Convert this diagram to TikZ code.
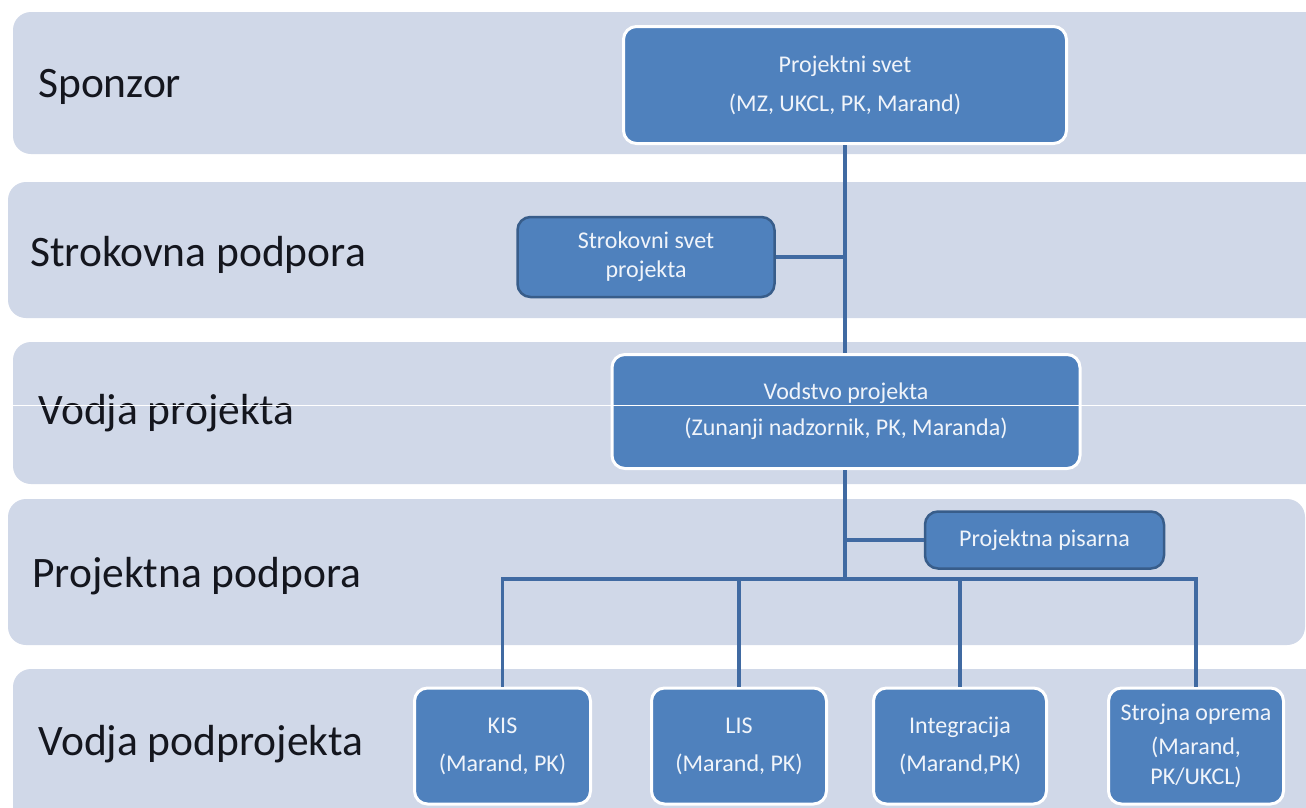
\documentclass[tikz,border=0pt]{standalone}
\usepackage{fontspec}
\setmainfont{Carlito}
\definecolor{bandfill}{RGB}{208,216,232}
\definecolor{boxfill}{RGB}{79,129,189}
\definecolor{conn}{RGB}{64,106,162}
\definecolor{darkedge}{RGB}{56,93,138}
\definecolor{boxtext}{RGB}{240,244,250}
\definecolor{bandtext}{RGB}{20,22,30}
\tikzset{
  band/.style={fill=bandfill, rounded corners=18pt, draw=none},
  bandlabel/.style={anchor=base west, text=bandtext, font=\fontsize{43.5}{50}\selectfont, inner sep=0pt},
  wbox/.style={draw=white, line width=3pt, fill=boxfill, rounded corners=13pt, text=boxtext, align=center, inner sep=0pt},
  dbox/.style={draw=darkedge, line width=2.5pt, fill=boxfill, rounded corners=13pt, text=boxtext, align=center, inner sep=0pt},
  conline/.style={draw=conn, line width=3.5pt}
}
\begin{document}
\begin{tikzpicture}[x=1pt,y=-1pt]
\useasboundingbox (0,0) rectangle (1306,807);
\fill[white] (0,0) rectangle (1306,807);
% bands
\path[band] (13,12) rectangle (1330,154);
\path[band] (8,182) rectangle (1330,318);
\path[band] (13,342) rectangle (1330,484);
\path[band] (8,499) rectangle (1305,645);
\path[band] (13,669) rectangle (1330,840);
% band labels
\node[bandlabel] (l1) at (38,97) {Sponzor};
\node[bandlabel] (l2) at (30,266) {Strokovna podpora};
\node[bandlabel] (l3) at (38,424) {Vodja projekta};
\node[bandlabel] (l4) at (32,587) {Projektna podpora};
\node[bandlabel] (l5) at (38,755) {Vodja podprojekta};
% boxes
\node[wbox, minimum width=443pt, minimum height=117pt, font=\fontsize{24}{39}\selectfont] (ps) at (845,85) {Projektni svet\\(MZ, UKCL, PK, Marand)};
\node[dbox, minimum width=257pt, minimum height=80pt, font=\fontsize{24}{29}\selectfont] (sv) at (646,257) {Strokovni svet\\projekta};
\node[wbox, minimum width=468pt, minimum height=114pt, font=\fontsize{24}{36}\selectfont] (vp) at (846,411.5) {Vodstvo projekta\\(Zunanji nadzornik, PK, Maranda)};
\node[dbox, minimum width=239pt, minimum height=57pt, font=\fontsize{24}{29}\selectfont] (pp) at (1044.5,540) {Projektna pisarna};
\node[wbox, minimum width=176pt, minimum height=116pt, font=\fontsize{24}{38}\selectfont] (kis) at (502.5,746) {KIS\\(Marand, PK)};
\node[wbox, minimum width=175pt, minimum height=116pt, font=\fontsize{24}{38}\selectfont] (lis) at (739,746) {LIS\\(Marand, PK)};
\node[wbox, minimum width=173pt, minimum height=116pt, font=\fontsize{24}{38}\selectfont] (int) at (960,746) {Integracija\\(Marand,PK)};
\node[wbox, minimum width=175pt, minimum height=116pt, font=\fontsize{24}{30}\selectfont] (so) at (1196,746) {Strojna oprema\\[4pt](Marand,\\PK/UKCL)};
% connectors
\coordinate (bus) at (845,579);
\draw[conline] (ps.south -| bus) -- (vp.north -| bus);
\draw[conline] (sv.east) -- (sv.east -| bus);
\draw[conline] (vp.south -| bus) -- (bus);
\draw[conline] (pp.west) -- (pp.west -| bus);
\draw[conline] (kis.north) -- (kis.north |- bus) -- (so.north |- bus) -- (so.north);
\draw[conline] (lis.north) -- (lis.north |- bus);
\draw[conline] (int.north) -- (int.north |- bus);
% scan artefact line
\draw[white, line width=1pt] (0,405) -- (1306,405);
\end{tikzpicture}
\end{document}
